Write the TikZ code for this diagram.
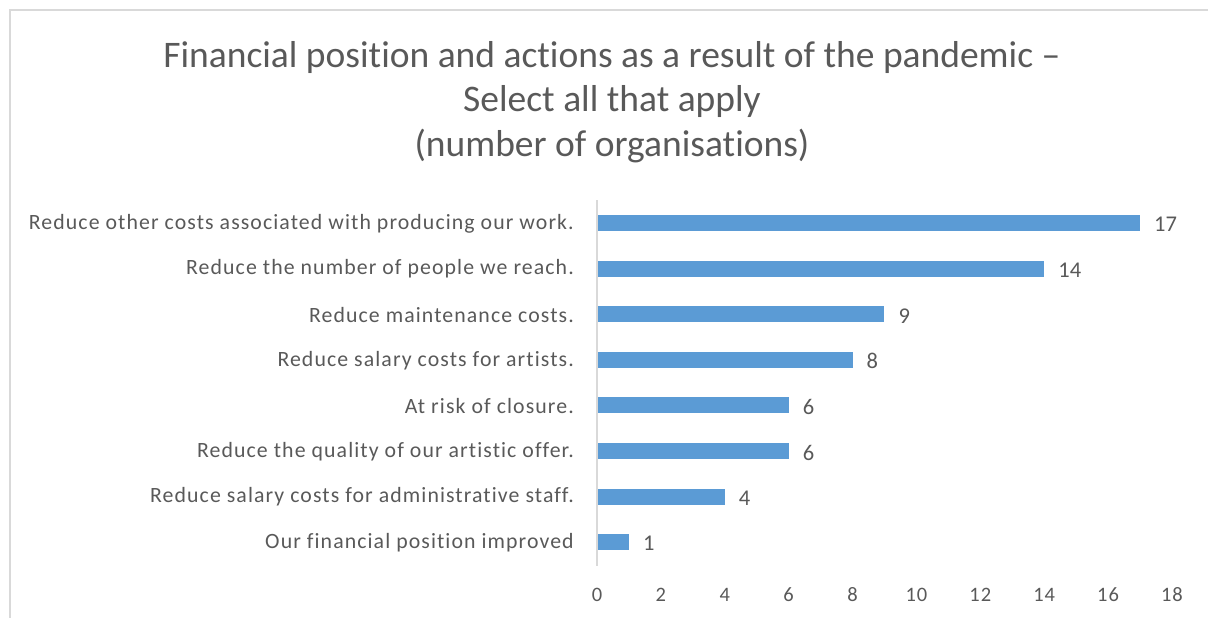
\documentclass[tikz,border=0pt]{standalone}
\usepackage{fontspec}
\setmainfont{Carlito}[Ligatures=NoCommon]
\newfontfamily\spacedfont{Carlito}[Ligatures=NoCommon,LetterSpace=5]
\definecolor{barblue}{HTML}{5B9BD5}
\definecolor{txtgray}{HTML}{595959}
\definecolor{linegray}{HTML}{D9D9D9}
\tikzset{
  lbl/.style={anchor=east,text=txtgray,font=\spacedfont\fontsize{21.8}{24}\selectfont,inner sep=0pt},
  val/.style={anchor=west,text=txtgray,font=\fontsize{22.5}{24}\selectfont,inner sep=0pt},
  tick/.style={text=txtgray,font=\spacedfont\fontsize{20.5}{22}\selectfont,inner sep=0pt}
}
\begin{document}
\begin{tikzpicture}[x=1pt,y=-1pt]
			\useasboundingbox (0,0) rectangle (1208,618);
			\draw[linegray,line width=2pt] (10,618) -- (10,10) -- (1208,10);
			\node[text=txtgray,font=\fontsize{37.5}{44.5}\selectfont,align=center] (title) at (612,102)
				{Financial position and actions as a result of the pandemic --\\Select all that apply\\(number of organisations)};
			\draw[linegray,line width=1.5pt] (597,200) -- (597,566);
			\foreach \v/\t [count=\i] in {17/Reduce other costs associated with producing our work.,
				14/Reduce the number of people we reach.,
				9/Reduce maintenance costs.,
				8/Reduce salary costs for artists.,
				6/At risk of closure.,
				6/Reduce the quality of our artistic offer.,
				4/Reduce salary costs for administrative staff.,
				1/Our financial position improved}{
				\fill[barblue] (598,{223+(\i-1)*45.6-8}) rectangle ({597+\v*31.94},{223+(\i-1)*45.6+8});
				\node[lbl] (cat\i) at (574,{223.5+(\i-1)*45.6}) {\t};
				\node[val] (val\i) at ({597+\v*31.94+14},{224.5+(\i-1)*45.6}) {\v};
			}
			\foreach \k in {0,2,...,18}{
				\node[tick] (tick\k) at ({597+\k*31.94},595) {\k};
			}
		\end{tikzpicture}
\end{document}
